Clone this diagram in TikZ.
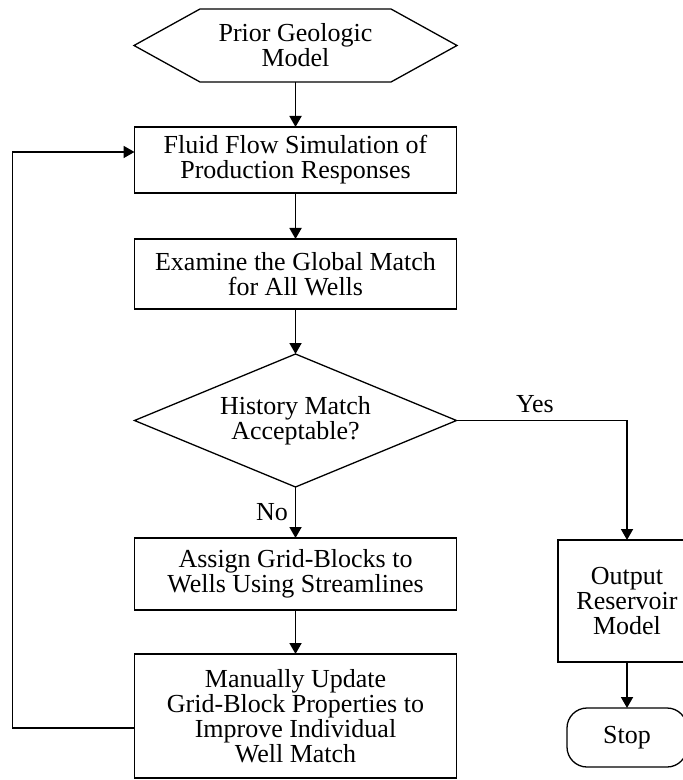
\documentclass[tikz,border=0pt]{standalone}
\usepackage{fontspec}
\setmainfont{Liberation Serif}
\usetikzlibrary{arrows.meta,positioning,shapes.geometric}

\begin{document}
\begin{tikzpicture}[
  x=0.5pt, y=-0.5pt,
  font=\fontsize{13}{12.5}\selectfont,
  line width=0.65pt,
  proc/.style={draw, align=center, minimum width=161pt, inner sep=2pt, outer sep=0pt},
  decide/.style={draw, diamond, aspect=2.42, align=center, minimum width=161pt, minimum height=66.5pt, inner sep=0pt, outer sep=0pt},
  term/.style={draw, rounded corners=10pt, minimum width=60pt, minimum height=29.5pt, outer sep=0pt},
  flow/.style={->, line width=0.9pt},
  >={Triangle[length=5.5pt, width=6pt]}]
  \clip (0,0) rectangle (683,780);
  % start: hexagon drawn round a plain node
  \node[align=center, minimum width=95.5pt, minimum height=36.5pt, inner sep=0pt, outer sep=0pt] (prior) at (295.5,45.5) {Prior Geologic\\Model};
  \draw (prior.north west) -- (prior.north east) -- ++(66,36.5) -- (prior.south east)
    -- (prior.south west) -- ++(-66,-36.5) -- cycle;
  \node[proc, minimum height=33pt, below=22.5pt of prior] (sim) {Fluid Flow Simulation of\\Production Responses};
  \node[proc, minimum height=35pt, below=23pt of sim] (exam) {Examine the Global Match\\for All Wells};
  \node[decide, below=22.5pt of exam] (hm) {History Match\\Acceptable?};
  \node[proc, minimum height=36pt, below=25.5pt of hm] (assign) {Assign Grid-Blocks to\\Wells Using Streamlines};
  \node[proc, minimum height=62pt, below=22pt of assign] (update) {Manually Update\\Grid-Block Properties to\\Improve Individual\\Well Match};
  \node[proc, minimum width=69pt, minimum height=61pt] (output) at (627,601) {Output\\Reservoir\\Model};
  \node[term, below=23pt of output] (stop) {Stop};
  \draw[flow] (prior.south) -- (sim.north);
  \draw[flow] (sim.south) -- (exam.north);
  \draw[flow] (exam.south) -- (hm.north);
  \draw[flow] (hm.east) -| node[pos=0.23, above] {Yes} (output.north);
  \draw[flow] (hm.south) -- node[left] {No} (assign.north);
  \draw[flow] (assign.south) -- (update.north);
  \draw[flow] (output.south) -- (stop.north);
  % loop back to the simulation
  \draw[flow] ([yshift=-6pt]update.west) -- ++(-122,0) |- ([yshift=4pt]sim.west);
\end{tikzpicture}
\end{document}
